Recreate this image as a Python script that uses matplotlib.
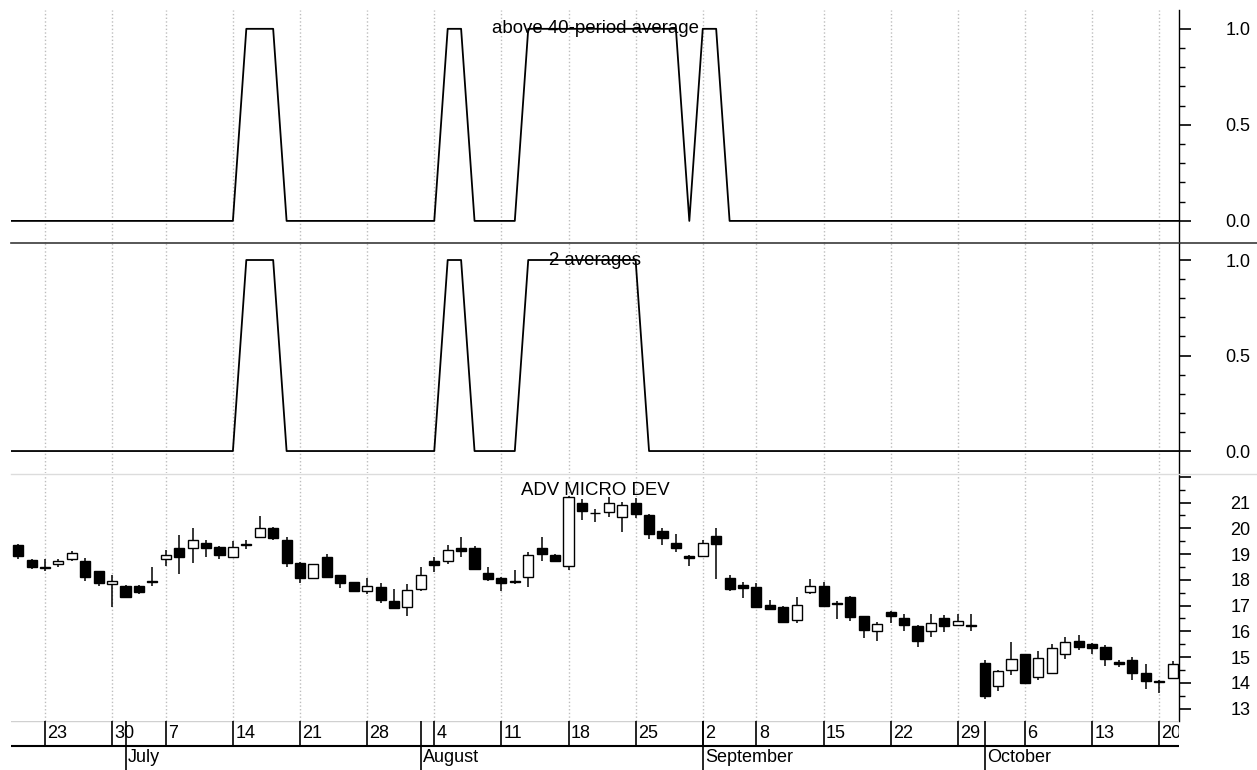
import numpy as np
import pandas as pd
import matplotlib
matplotlib.use('Agg')
import matplotlib.pyplot as plt
import matplotlib.transforms as mtransforms
from matplotlib.lines import Line2D
from matplotlib.ticker import FixedLocator

plt.rcParams['font.family'] = ['Liberation Sans', 'DejaVu Sans']

# trading days shown (weekdays minus exchange holidays)
HOLIDAYS = ['1997-07-04', '1997-09-01']
dates = pd.bdate_range('1997-06-19', '1997-10-21')
dates = dates[~dates.isin(pd.to_datetime(HOLIDAYS))]

opens = [19.37, 18.78, 18.50, 18.63, 18.80, 18.75, 18.33, 17.84, 17.78, 17.78,
         17.95, 18.80, 19.24, 19.23, 19.45, 19.29, 18.87, 19.40, 19.68, 20.03,
         19.55, 18.65, 18.06, 18.88, 18.17, 17.91, 17.58, 17.73, 17.16, 16.96,
         17.64, 18.75, 18.75, 19.25, 19.25, 18.26, 18.08, 17.95, 18.13, 19.23,
         18.98, 18.55, 20.98, 20.60, 20.64, 20.44, 20.99, 20.52, 19.90, 19.42,
         18.93, 18.93, 19.72, 18.09, 17.80, 17.74, 17.01, 16.96, 16.43, 17.52,
         17.78, 17.12, 17.35, 16.59, 16.02, 16.77, 16.51, 16.22, 16.02, 16.51,
         16.25, 16.26, 14.76, 13.88, 14.50, 15.11, 14.24, 14.37, 15.11, 15.64,
         15.51, 15.41, 14.83, 14.87, 14.40, 14.09, 14.19]
highs = [19.40, 18.80, 18.81, 18.80, 19.12, 18.85, 18.35, 18.19, 17.80, 17.80,
         18.50, 19.16, 19.73, 20.03, 19.54, 19.31, 19.50, 19.55, 20.46, 20.05,
         19.66, 18.70, 18.63, 19.01, 18.19, 17.93, 18.08, 17.89, 17.66, 17.84,
         18.50, 18.87, 19.36, 19.67, 19.33, 18.49, 18.10, 18.39, 19.10, 19.66,
         19.00, 21.26, 21.13, 20.77, 21.23, 21.04, 21.17, 20.54, 20.02, 19.77,
         18.97, 19.53, 20.02, 18.19, 17.93, 17.89, 17.22, 16.98, 17.35, 18.02,
         17.93, 17.16, 17.37, 16.61, 16.38, 16.79, 16.66, 16.24, 16.69, 16.63,
         16.68, 16.68, 14.87, 14.50, 15.60, 15.13, 15.24, 15.50, 15.80, 15.86,
         15.54, 15.47, 14.89, 15.00, 14.74, 14.10, 14.85]
lows = [18.80, 18.43, 18.35, 18.50, 18.74, 17.96, 17.78, 16.96, 17.30, 17.45,
        17.77, 18.55, 18.24, 18.67, 18.87, 18.80, 18.87, 19.20, 19.64, 19.56,
        18.48, 17.88, 18.06, 18.06, 17.70, 17.51, 17.45, 17.09, 16.90, 16.60,
        17.58, 18.32, 18.61, 18.87, 18.41, 17.96, 17.58, 17.84, 17.71, 18.75,
        18.68, 18.39, 20.33, 20.26, 20.44, 19.84, 20.39, 19.59, 19.34, 19.10,
        18.55, 18.88, 18.03, 17.58, 17.29, 16.94, 16.83, 16.32, 16.32, 17.45,
        16.94, 16.48, 16.42, 15.76, 15.64, 16.32, 16.02, 15.38, 15.80, 15.99,
        16.22, 16.00, 13.39, 13.70, 14.31, 13.99, 14.11, 14.35, 14.92, 15.28,
        15.12, 14.67, 14.61, 14.11, 13.75, 13.60, 14.14]
closes = [18.93, 18.49, 18.46, 18.75, 19.06, 18.13, 17.89, 17.96, 17.34, 17.53,
          17.91, 18.97, 18.87, 19.53, 19.23, 18.98, 19.29, 19.37, 20.03, 19.62,
          18.67, 18.06, 18.63, 18.10, 17.89, 17.58, 17.78, 17.22, 16.92, 17.61,
          18.19, 18.57, 19.16, 19.12, 18.44, 18.03, 17.86, 17.93, 18.98, 18.99,
          18.74, 21.23, 20.69, 20.58, 20.98, 20.92, 20.56, 19.78, 19.62, 19.22,
          18.83, 19.42, 19.41, 17.65, 17.67, 16.96, 16.88, 16.37, 17.04, 17.78,
          16.99, 17.07, 16.57, 16.06, 16.28, 16.61, 16.25, 15.64, 16.34, 16.19,
          16.39, 16.20, 13.51, 14.45, 14.93, 14.01, 14.98, 15.34, 15.59, 15.41,
          15.36, 14.92, 14.72, 14.37, 14.08, 14.02, 14.74]

# 0/1 signals, one per trading day
above_40 = [0, 0, 0, 0, 0, 0, 0, 0, 0, 0, 0, 0, 0, 0, 0, 0, 0, 1, 1, 1,
            0, 0, 0, 0, 0, 0, 0, 0, 0, 0, 0, 0, 1, 1, 0, 0, 0, 0, 1, 1,
            1, 1, 1, 1, 1, 1, 1, 1, 1, 1, 0, 1, 1, 0, 0, 0, 0, 0, 0, 0,
            0, 0, 0, 0, 0, 0, 0, 0, 0, 0, 0, 0, 0, 0, 0, 0, 0, 0, 0, 0,
            0, 0, 0, 0, 0, 0, 0]
two_avg = [0, 0, 0, 0, 0, 0, 0, 0, 0, 0, 0, 0, 0, 0, 0, 0, 0, 1, 1, 1,
           0, 0, 0, 0, 0, 0, 0, 0, 0, 0, 0, 0, 1, 1, 0, 0, 0, 0, 1, 1,
           1, 1, 1, 1, 1, 1, 1, 0, 0, 0, 0, 0, 0, 0, 0, 0, 0, 0, 0, 0,
           0, 0, 0, 0, 0, 0, 0, 0, 0, 0, 0, 0, 0, 0, 0, 0, 0, 0, 0, 0,
           0, 0, 0, 0, 0, 0, 0]

title_top = 'above 40-period average'
title_mid = '2 averages'
title_bot = 'ADV MICRO DEV'

pos = np.arange(len(dates))
o = np.array(opens); h = np.array(highs); l = np.array(lows); c = np.array(closes)

wd = dates.weekday.values
week_pos = [i for i in range(1, len(dates)) if wd[i] < wd[i - 1]]
month_pos = [i for i in range(1, len(dates)) if dates[i].month != dates[i - 1].month]

W, H = 1257, 770
fig = plt.figure(figsize=(W / 100, H / 100), dpi=100)
left, right = 11.4 / W, 1179.3 / W


def ax_at(top_px, bot_px):
    return fig.add_axes([left, 1 - bot_px / H, right - left, (bot_px - top_px) / H])


ax1 = ax_at(10, 243)
ax2 = ax_at(243, 473)
ax3 = ax_at(474, 721)
axx = ax_at(721, 770)

xlim = (-0.5, len(dates) - 0.5)
fs = 13

for ax in (ax1, ax2, ax3):
    ax.set_xlim(*xlim)
    for s in ('left', 'top', 'bottom'):
        ax.spines[s].set_visible(False)
    ax.spines['right'].set_linewidth(1.0)
    ax.set_xticks(week_pos)
    ax.tick_params(axis='x', bottom=False, labelbottom=False)
    ax.grid(axis='x', color='#bdbdbd', linestyle=':', linewidth=1.0)
    ax.yaxis.tick_right()
    ax.tick_params(axis='y', which='major', length=8.6, width=1.2, labelsize=fs, pad=42.5)
    ax.tick_params(axis='y', which='minor', length=4.3, width=1.0)
    for lab in ax.get_yticklabels():
        lab.set_horizontalalignment('right')

# signal panels, lines run on past both edges
xs = np.r_[pos[0] - 1, pos, pos[-1] + 1]
for ax, sig, ttl, top in ((ax1, above_40, title_top, 1.098), (ax2, two_avg, title_mid, 1.089)):
    vals = np.r_[sig[0], sig, sig[-1]]
    ax.plot(xs, vals, color='black', linewidth=1.3, clip_on=True)
    ax.set_ylim(-0.115, top)
    ax.set_yticks([0.0, 0.5, 1.0])
    ax.set_yticklabels(['0.0', '0.5', '1.0'])
    ax.yaxis.set_minor_locator(FixedLocator([0.1, 0.2, 0.3, 0.4, 0.6, 0.7, 0.8, 0.9]))
    for lab in ax.get_yticklabels():
        lab.set_horizontalalignment('right')
    tr = mtransforms.blended_transform_factory(ax.transAxes, ax.transData)
    ax.text(0.5, 1.0, ttl, transform=tr, ha='center', va='center', fontsize=13.4)

# candles
up = c >= o
body_lo = np.minimum(o, c)
body_h = np.maximum(np.abs(c - o), 0.03)
ax3.vlines(pos, l, h, color='black', linewidth=1.1, zorder=2)
ax3.bar(pos, body_h, bottom=body_lo, width=0.75,
        color=np.where(up, 'white', 'black'), edgecolor='black', linewidth=1.0, zorder=3)
ax3.set_ylim(12.52, 22.11)
price_ticks = list(range(13, 23))
ax3.set_yticks(price_ticks)
ax3.set_yticklabels([str(t) if t < 22 else '' for t in price_ticks])
ax3.yaxis.set_minor_locator(FixedLocator([t + 0.5 for t in range(12, 22)]))
for lab in ax3.get_yticklabels():
    lab.set_horizontalalignment('right')
ax3.text(0.5, 0.933, title_bot, transform=ax3.transAxes, ha='center', va='center', fontsize=13.4)

# date axis: week row on top, month row below
axx.set_xlim(*xlim)
axx.set_ylim(0, 1)
axx.axis('off')
mid = 0.49
axx.axhline(1.0, color='#d0d0d0', linewidth=1.0)
axx.axhline(mid, color='black', linewidth=1.5)
axx.vlines(week_pos, mid, 1.0, color='black', linewidth=1.2)
axx.vlines(month_pos, 0.0, 1.0, color='black', linewidth=1.2)
for p in week_pos:
    axx.text(p + 0.18, (1 + mid) / 2, str(dates[p].day), ha='left', va='center', fontsize=fs, clip_on=True)
for p in month_pos:
    axx.text(p + 0.18, mid / 2, dates[p].strftime('%B'), ha='left', va='center', fontsize=fs)

# panel separators running to the right edge
fig.add_artist(Line2D([left, 1], [1 - 243 / H] * 2, color='#3a3a3a', linewidth=1.2))
fig.add_artist(Line2D([left, 1], [1 - 474 / H] * 2, color='#dcdcdc', linewidth=1.0))

fig.savefig('out.png', dpi=100)
